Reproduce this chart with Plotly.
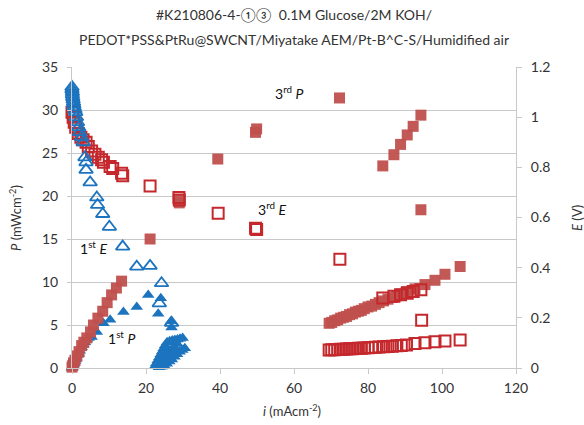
import plotly.graph_objects as go

# ---------------- data ----------------
# 1st run, E (V) - open blue triangles (right axis)
e1_i = [0.0, 0.0, 0.1, 0.1, 0.2, 0.3, 0.4, 0.5, 0.6, 0.8, 1.0, 1.2, 1.5, 1.8, 2.1, 2.6, 3.0,
        3.5, 3.8, 3.8, 4.9, 6.7, 6.9, 8.3, 10.1, 13.7, 17.5, 21.1, 24.2, 23.6, 26.9]
e1_E = [1.12, 1.11, 1.10, 1.09, 1.08, 1.07, 1.06, 1.05, 1.04, 1.03, 1.02, 1.00, 0.98, 0.96, 0.94, 0.92, 0.90,
        0.84, 0.82, 0.79, 0.74, 0.68, 0.65, 0.614, 0.563, 0.484, 0.404, 0.407, 0.338, 0.258, 0.18]

# 1st run, P (mW cm-2) - filled blue triangles (left axis)
p1_i = [0.0, 0.1, 0.2, 0.3, 0.4, 0.5, 0.6, 0.8, 1.0, 1.2, 1.5, 1.8, 2.1, 2.6, 3.0, 3.5, 4.0,
        4.5, 5.3, 6.7, 8.5, 10.3, 13.9, 17.5, 20.6, 24.0, 23.3, 26.7, 26.9,
        22.4, 22.8, 23.2, 23.6, 24.0, 24.4, 24.8, 25.2, 25.7,
        26.4, 27.1, 27.8, 28.5, 29.2, 29.9,
        30.5, 29.8, 29.1, 28.4, 27.7, 27.0, 26.3, 25.6, 24.9, 24.2, 23.5,
        24.5, 25.5, 26.5, 27.5, 28.5, 25.0, 26.0, 27.0, 28.0]
p1_P = [0.0, 0.1, 0.2, 0.3, 0.4, 0.5, 0.6, 0.8, 1.0, 1.2, 1.5, 1.7, 2.0, 2.4, 2.7, 3.0, 3.3,
        3.5, 3.6, 4.2, 5.2, 5.6, 6.5, 7.1, 8.5, 8.1, 6.3, 5.4, 4.7,
        0.2, 0.55, 0.9, 1.25, 1.6, 1.95, 2.3, 2.65, 3.0,
        3.1, 3.2, 3.25, 3.3, 3.4, 3.5,
        2.3, 2.1, 1.9, 1.6, 1.3, 1.0, 0.75, 0.5, 0.3, 0.15, 0.1,
        1.0, 1.5, 2.0, 2.5, 2.8, 0.6, 1.2, 1.7, 2.2]

# 3rd run, E (V) - open red squares (right axis)
e3_i = [0.0, 0.3, 0.6, 1.0, 1.7, 2.4, 3.0, 3.8, 4.4, 5.3, 6.2, 7.1, 8.0, 8.5, 10.3, 11.0,
        13.4, 13.7, 21.1, 28.9, 29.0, 39.5, 49.6, 49.9, 72.4,
        84.0, 87.0, 88.8, 90.6, 92.2, 94.3, 94.5,
        69.5, 70.2, 71.0, 71.8, 72.6, 73.4, 74.2, 75.0, 75.8, 76.6, 77.4, 78.2, 79.0,
        80.0, 81.0, 82.0, 83.0, 84.2, 85.4, 86.6, 87.8, 89.0, 90.4, 92.7, 95.4, 98.1,
        100.8, 104.9]
e3_E = [1.02, 1.00, 0.98, 0.96, 0.935, 0.92, 0.91, 0.90, 0.883, 0.865, 0.852, 0.84, 0.83, 0.82,
        0.803, 0.795, 0.776, 0.766, 0.726, 0.68, 0.67, 0.617, 0.557, 0.552, 0.434,
        0.279, 0.286, 0.292, 0.298, 0.305, 0.312, 0.19,
        0.072, 0.073, 0.073, 0.074, 0.075, 0.075, 0.076, 0.077, 0.077, 0.078, 0.079, 0.079,
        0.080, 0.081, 0.082, 0.083, 0.084, 0.085, 0.086, 0.087, 0.089, 0.090, 0.092,
        0.098, 0.101, 0.105, 0.108, 0.112]

# 3rd run, P (mW cm-2) - filled red squares (left axis)
p3_i = [0.0, 0.2, 0.4, 0.8, 1.3, 1.9, 2.6, 3.2, 4.0, 5.0, 5.8, 7.0, 8.3, 9.5, 10.7, 12.0,
        13.4, 21.1, 28.9, 29.0, 39.4, 49.6, 49.9, 72.3,
        84.0, 87.0, 88.8, 90.6, 92.2, 94.3, 94.3,
        69.5, 70.2, 71.0, 71.8, 72.6, 73.4, 74.2, 75.0, 75.8, 76.6, 77.4, 78.2, 79.0,
        80.0, 81.0, 82.0, 83.0, 84.2, 85.4, 86.6, 87.8, 89.0, 90.4, 92.7, 95.4, 98.1,
        100.8, 104.9]
p3_P = [0.1, 0.3, 0.6, 0.9, 1.4, 1.9, 2.6, 3.0, 3.5, 4.2, 5.0, 5.8, 6.6, 7.6, 8.5, 9.3,
        10.1, 15.0, 19.5, 19.2, 24.3, 27.4, 27.8, 31.4,
        23.5, 24.8, 26.0, 27.1, 28.1, 29.4, 18.4,
        5.2, 5.3, 5.5, 5.6, 5.8, 5.9, 6.0, 6.2, 6.3, 6.5, 6.6, 6.7, 6.9,
        7.1, 7.2, 7.4, 7.6, 7.8, 8.0, 8.2, 8.4, 8.6, 8.9, 9.2, 9.7, 10.2,
        10.9, 11.8]

labels = [
    ("3<sup>rd</sup> <i>P</i>", 58.9, 32.0),
    ("3<sup>rd</sup> <i>E</i>", 54.3, 18.6),
    ("1<sup>st</sup> <i>E</i>", 5.7, 14.0),
    ("1<sup>st</sup> <i>P</i>", 13.4, 3.5),
]

title_lines = ["#K210806-4-①③  0.1M Glucose/2M KOH/",
               "PEDOT*PSS&amp;PtRu@SWCNT/Miyatake AEM/Pt-B^C-S/Humidified air"]

# ---------------- styling ----------------
RED_FILL = "rgba(192,80,77,0.95)"
RED_LINE = "#C4282C"
BLUE = "#1C74BF"
FONT = "Lato"
GRID = "#C8C8C8"
TXT = "#333333"

fig = go.Figure()

fig.add_trace(go.Scatter(x=p1_i, y=p1_P, mode="markers", yaxis="y", cliponaxis=False,
                         marker=dict(symbol="triangle-up", size=11, color=BLUE, line=dict(width=0))))
fig.add_trace(go.Scatter(x=p3_i, y=p3_P, mode="markers", yaxis="y", cliponaxis=False,
                         marker=dict(symbol="square", size=11, color=RED_FILL, line=dict(width=0))))
fig.add_trace(go.Scatter(x=e3_i, y=e3_E, mode="markers", yaxis="y2", cliponaxis=False,
                         marker=dict(symbol="square-open", size=11, color=RED_LINE, line=dict(width=2))))
fig.add_trace(go.Scatter(x=e1_i, y=e1_E, mode="markers", yaxis="y2", cliponaxis=False,
                         marker=dict(symbol="triangle-up-open", size=12, color=BLUE, line=dict(width=1.8))))

annotations = []
for txt, xv, yv in labels:
    annotations.append(dict(x=xv, y=yv, xref="x", yref="y", text=txt, showarrow=False,
                            font=dict(family=FONT, size=14, color="#111111")))

annotations.append(dict(x=0.5, y=1 + (67 - 14) / 301, xref="paper", yref="paper", text=title_lines[0],
                        showarrow=False, font=dict(family=FONT, size=14, color=TXT), yanchor="middle"))
annotations.append(dict(x=0.5, y=1 + (67 - 39) / 301, xref="paper", yref="paper", text=title_lines[1],
                        showarrow=False, font=dict(family=FONT, size=14, color=TXT), yanchor="middle"))

# axis titles
annotations.append(dict(x=(15 - 72) / 444, y=(368 - 218) / 301, xref="paper", yref="paper",
                        text="<i>P</i> (mWcm<sup>-2</sup>)", textangle=-90, showarrow=False,
                        font=dict(family=FONT, size=13, color=TXT), xanchor="center", yanchor="middle"))
annotations.append(dict(x=(577 - 72) / 444, y=(368 - 218) / 301, xref="paper", yref="paper",
                        text="<i>E</i> (V)", textangle=-90, showarrow=False,
                        font=dict(family=FONT, size=13, color=TXT), xanchor="center", yanchor="middle"))
annotations.append(dict(x=(292 - 72) / 444, y=-(410 - 368) / 301, xref="paper", yref="paper",
                        text="<i>i</i> (mAcm<sup>-2</sup>)", showarrow=False,
                        font=dict(family=FONT, size=13, color=TXT), xanchor="center", yanchor="middle"))

fig.update_layout(
    width=584, height=425, autosize=False,
    margin=dict(l=72, r=68, t=67, b=57),
    paper_bgcolor="white", plot_bgcolor="white",
    showlegend=False,
    font=dict(family=FONT, size=13, color=TXT),
    xaxis=dict(range=[0, 120], dtick=20, showgrid=False, zeroline=False,
               showline=True, linecolor=GRID, linewidth=1,
               ticks="outside", ticklen=5, tickcolor=GRID, ticklabelstandoff=2,
               tickfont=dict(family=FONT, size=14, color=TXT)),
    yaxis=dict(range=[0, 35], dtick=5, showgrid=True, gridcolor=GRID, gridwidth=1,
               zeroline=False, showline=True, linecolor=GRID, ticks="outside",
               ticklen=4, tickcolor=GRID, ticklabelstandoff=6,
               tickfont=dict(family=FONT, size=14, color=TXT)),
    yaxis2=dict(range=[0, 1.2], dtick=0.2, overlaying="y", side="right",
                showgrid=False, zeroline=False, showline=True, linecolor=GRID,
                ticks="outside", ticklen=5, tickcolor=GRID, ticklabelstandoff=6,
                tickfont=dict(family=FONT, size=14, color=TXT)),
    annotations=annotations,
)

fig.write_html("out.html")
